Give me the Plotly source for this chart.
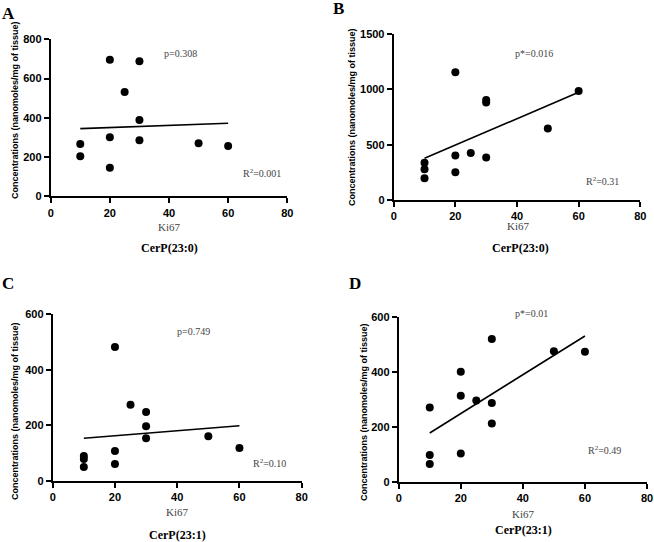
import plotly.graph_objects as go

W, H = 654, 542

# Data
ki67_A = [10, 10, 20, 20, 20, 25, 30, 30, 30, 50, 60]
conc_A = [267, 204, 696, 301, 146, 532, 688, 389, 285, 270, 256]
fit_x_A = [10, 60]
fit_y_A = [345, 372]

ki67_B = [10, 10, 10, 20, 20, 20, 25, 30, 30, 30, 50, 60]
conc_B = [337, 277, 196, 1154, 401, 250, 425, 904, 880, 383, 645, 985]
fit_x_B = [10, 60]
fit_y_B = [377, 973]

ki67_C = [10, 10, 10, 20, 20, 20, 25, 30, 30, 30, 50, 60]
conc_C = [89, 78, 49, 482, 107, 60, 274, 248, 196, 153, 160, 118]
fit_x_C = [10, 60]
fit_y_C = [153, 198]

ki67_D = [10, 10, 10, 20, 20, 20, 25, 30, 30, 30, 50, 60]
conc_D = [270, 98, 65, 400, 313, 103, 296, 519, 287, 212, 475, 473]
fit_x_D = [10, 60]
fit_y_D = [178, 530]

x_ticks = [0, 20, 40, 60, 80]
y_ticks_A = [0, 200, 400, 600, 800]
y_ticks_B = [0, 500, 1000, 1500]
y_ticks_C = [0, 200, 400, 600]
y_ticks_D = [0, 200, 400, 600]

panels = [
    dict(x=ki67_A, y=conc_A, fx=fit_x_A, fy=fit_y_A, yt=y_ticks_A, ymax=800,
         px=(50.7, 287.3), py=(196.3, 39.3)),
    dict(x=ki67_B, y=conc_B, fx=fit_x_B, fy=fit_y_B, yt=y_ticks_B, ymax=1500,
         px=(393.7, 640.3), py=(200.0, 34.0)),
    dict(x=ki67_C, y=conc_C, fx=fit_x_C, fy=fit_y_C, yt=y_ticks_C, ymax=600,
         px=(52.7, 301.7), py=(480.7, 314.3)),
    dict(x=ki67_D, y=conc_D, fx=fit_x_D, fy=fit_y_D, yt=y_ticks_D, ymax=600,
         px=(398.7, 647.0), py=(482.0, 316.7)),
]

def fx(p):
    return p / W

def fy(p):
    return 1 - p / H

fig = go.Figure()
layout = dict(
    template="none",
    width=W, height=H, margin=dict(l=0, r=0, t=0, b=0, pad=0), autosize=False,
    paper_bgcolor="white", plot_bgcolor="white", showlegend=False,
)

tickfont = dict(family="Liberation Sans, Arial", size=11, color="black", weight="bold")

for i, p in enumerate(panels):
    n = "" if i == 0 else str(i + 1)
    xa, ya = "x" + n, "y" + n
    fig.add_trace(go.Scatter(x=p["fx"], y=p["fy"], mode="lines",
                             line=dict(color="black", width=1.6),
                             xaxis=xa, yaxis=ya, hoverinfo="skip"))
    fig.add_trace(go.Scatter(x=p["x"], y=p["y"], mode="markers",
                             marker=dict(color="black", size=8),
                             cliponaxis=False, xaxis=xa, yaxis=ya))
    layout["xaxis" + n] = dict(
        domain=[fx(p["px"][0]), fx(p["px"][1])], anchor=ya, range=[0, 80],
        tickvals=x_ticks, showline=True, linecolor="black", linewidth=2,
        ticks="outside", ticklen=5, tickwidth=2, tickcolor="black",
        showgrid=False, zeroline=False, tickfont=tickfont, fixedrange=True,
        automargin=False,
    )
    layout["yaxis" + n] = dict(
        domain=[fy(p["py"][0]), fy(p["py"][1])], anchor=xa, range=[0, p["ymax"]],
        tickvals=p["yt"], showline=True, linecolor="black", linewidth=2,
        ticks="outside", ticklen=5, tickwidth=2, tickcolor="black",
        showgrid=False, zeroline=False, tickfont=tickfont, fixedrange=True,
        automargin=False,
    )

fig.update_layout(**layout)

serif = "Liberation Serif, Times New Roman"
annots = [
    # panel letters
    ("A", 8, 13, 17, "black", True, serif, 0),
    ("B", 338, 9, 17, "black", True, serif, 0),
    ("C", 8, 283, 17, "black", True, serif, 0),
    ("D", 355, 283, 17, "black", True, serif, 0),
    # stats
    ("p=0.308", 180, 53, 10, "#444", False, serif, 0),
    ("R<sup>2</sup>=0.001", 262, 173, 10, "#444", False, serif, 0),
    ("p*=0.016", 534, 54, 10, "#444", False, serif, 0),
    ("R<sup>2</sup>=0.31", 602, 181, 10, "#444", False, serif, 0),
    ("p=0.749", 193, 331, 10, "#444", False, serif, 0),
    ("R<sup>2</sup>=0.10", 269, 463, 10, "#444", False, serif, 0),
    ("p*=0.01", 531, 313, 10, "#444", False, serif, 0),
    ("R<sup>2</sup>=0.49", 604, 450, 10, "#444", False, serif, 0),
    # x titles
    ("Ki67", 170, 227, 11, "#444", False, serif, 0),
    ("Ki67", 518, 226, 11, "#444", False, serif, 0),
    ("Ki67", 177, 512, 11, "#444", False, serif, 0),
    ("Ki67", 523, 514, 11, "#444", False, serif, 0),
    # subtitles
    ("CerP(23:0)", 170, 248, 12, "black", True, serif, 0),
    ("CerP(23:0)", 520, 248, 12, "black", True, serif, 0),
    ("CerP(23:1)", 177, 535, 12, "black", True, serif, 0),
    ("CerP(23:1)", 523, 530, 12, "black", True, serif, 0),
    # y titles
    ("Concentrations (nanomoles/mg of tissue)", 15, 110, 9, "black", True, "Liberation Sans, Arial", -90),
    ("Concentrations (nanomoles/mg of tissue)", 352, 117, 9, "black", True, "Liberation Sans, Arial", -90),
    ("Concentrations (nanomoles/mg of tissue)", 15, 411, 9, "black", True, "Liberation Sans, Arial", -90),
    ("Concentrations (nanomoles/mg of tissue)", 364, 412, 9, "black", True, "Liberation Sans, Arial", -90),
]
for text, x, y, size, color, bold, fam, ang in annots:
    fig.add_annotation(
        text=text, x=fx(x), y=fy(y), xref="paper", yref="paper",
        xanchor="center", yanchor="middle", showarrow=False, textangle=ang,
        font=dict(family=fam, size=size, color=color, weight="bold" if bold else "normal"),
    )

fig.write_html(
    "out.html",
    config={"displayModeBar": False},
    post_script="document.body.style.margin='0';document.body.style.overflow='hidden';",
)
